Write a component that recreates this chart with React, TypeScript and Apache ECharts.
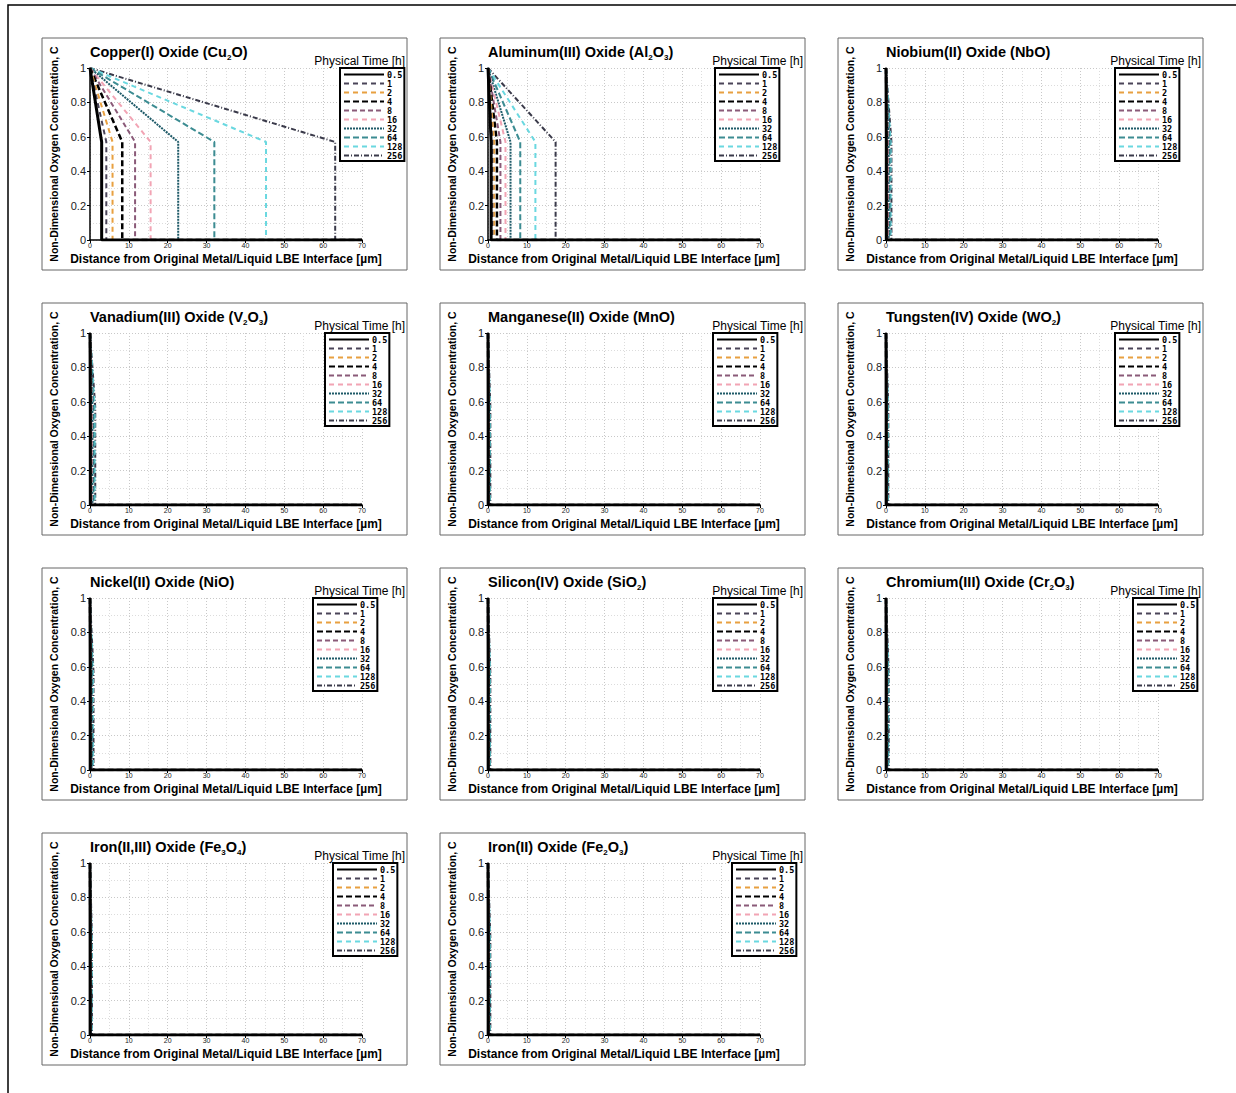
import React, { useEffect, useRef } from "react";
import * as echarts from "echarts";

// ---- data ----
const times = ["0.5", "1", "2", "4", "8", "16", "32", "64", "128", "256"];
const xTickMax = 70;
const dropLevel = 0.57;

const titlesRich = [
  "{t|Copper(I) Oxide (Cu}{s|2}{t|O)}",
  "{t|Aluminum(III) Oxide (Al}{s|2}{t|O}{s|3}{t|)}",
  "{t|Niobium(II) Oxide (NbO)}",
  "{t|Vanadium(III) Oxide (V}{s|2}{t|O}{s|3}{t|)}",
  "{t|Manganese(II) Oxide (MnO)}",
  "{t|Tungsten(IV) Oxide (WO}{s|2}{t|)}",
  "{t|Nickel(II) Oxide (NiO)}",
  "{t|Silicon(IV) Oxide (SiO}{s|2}{t|)}",
  "{t|Chromium(III) Oxide (Cr}{s|2}{t|O}{s|3}{t|)}",
  "{t|Iron(II,III) Oxide (Fe}{s|3}{t|O}{s|4}{t|)}",
  "{t|Iron(II) Oxide (Fe}{s|2}{t|O}{s|3}{t|)}",
];

// distance [µm] at which each time's profile drops to zero
const dropCu2O = [3.0, 4.2, 5.8, 8.3, 11.6, 15.6, 22.7, 32.0, 45.3, 63.1];
const dropAl2O3 = [0.8, 1.1, 1.6, 2.3, 3.2, 4.5, 5.8, 8.3, 12.2, 17.4];
const dropNbO = [0.08, 0.12, 0.17, 0.24, 0.34, 0.48, 0.68, 0.95, 1.2, 1.4];
const dropV2O3 = [0.08, 0.11, 0.16, 0.22, 0.32, 0.45, 0.63, 0.9, 1.2, 1.35];
const dropMnO = [0.04, 0.05, 0.07, 0.1, 0.14, 0.2, 0.28, 0.4, 0.52, 0.6];
const dropWO2 = [0.04, 0.05, 0.07, 0.1, 0.14, 0.2, 0.28, 0.4, 0.52, 0.6];
const dropNiO = [0.05, 0.07, 0.1, 0.14, 0.2, 0.28, 0.4, 0.56, 0.75, 0.9];
const dropSiO2 = [0.04, 0.05, 0.07, 0.1, 0.14, 0.2, 0.28, 0.4, 0.52, 0.6];
const dropCr2O3 = [0.04, 0.06, 0.08, 0.11, 0.16, 0.22, 0.32, 0.45, 0.6, 0.7];
const dropFe3O4 = [0.03, 0.05, 0.06, 0.09, 0.12, 0.17, 0.24, 0.34, 0.45, 0.5];
const dropFe2O3 = [0.04, 0.05, 0.07, 0.1, 0.14, 0.2, 0.28, 0.4, 0.52, 0.6];

const drops = [
  dropCu2O, dropAl2O3, dropNbO, dropV2O3, dropMnO, dropWO2,
  dropNiO, dropSiO2, dropCr2O3, dropFe3O4, dropFe2O3,
];

// ---- styles ----
const lineStyles: any[] = [
  { color: "#000000", width: 3, type: "solid" },
  { color: "#4a4458", width: 2, type: [5, 4] },
  { color: "#e8a040", width: 2, type: [5, 4] },
  { color: "#000000", width: 2.5, type: [6, 3] },
  { color: "#8a5a78", width: 2, type: [5, 3] },
  { color: "#f2a4b4", width: 2, type: [5, 4] },
  { color: "#1e5a68", width: 2, type: [2, 1] },
  { color: "#3c8c92", width: 2, type: [6, 3] },
  { color: "#6ad8e0", width: 2, type: [5, 4] },
  { color: "#3a3a4a", width: 2, type: [5, 2, 1, 2] },
];

const colLefts = [42, 440, 838];
const rowTops = [38, 303, 568, 833];
const panelW = 365;
const panelH = 232;
const legendLefts = [298, 275, 277, 283, 273, 277, 271, 273, 295, 291, 292];

export default function App() {
  const ref = useRef<HTMLDivElement>(null);
  useEffect(() => {
    if (!ref.current) return;
    const chart = echarts.init(ref.current, undefined, { renderer: "svg" });
    const grids: any[] = [];
    const xAxes: any[] = [];
    const yAxes: any[] = [];
    const series: any[] = [];
    const titles: any[] = [];
    const legends: any[] = [];
    const graphics: any[] = [
      {
        type: "polyline",
        shape: { points: [[8, 1093], [8, 5], [1236, 5]] },
        style: { stroke: "#000", lineWidth: 1.5, fill: null },
        silent: true,
      },
    ];
    const font = "'Liberation Sans', Arial, sans-serif";
    drops.forEach((dist, p) => {
      const px = colLefts[p % 3];
      const py = rowTops[Math.floor(p / 3)];
      grids.push({ left: px + 48, top: py + 30, width: 272, height: 172 });
      xAxes.push({
        gridIndex: p,
        type: "value",
        min: 0,
        max: xTickMax,
        interval: 10,
        name: "Distance from Original Metal/Liquid LBE Interface [µm]",
        nameLocation: "middle",
        nameGap: 13,
        nameTextStyle: { fontFamily: font, fontWeight: "bold", fontSize: 12, color: "#000" },
        axisLine: { show: true, onZero: false, lineStyle: { color: "#000", width: 1.5 } },
        axisTick: { show: true, length: 3, lineStyle: { color: "#000" } },
        axisLabel: { fontSize: 7, margin: 2, color: "#222", fontFamily: font },
        splitLine: { show: true, lineStyle: { color: "#c8c8c8", type: [1, 2] } },
        minorTick: { show: false, splitNumber: 2 },
        minorSplitLine: { show: true, lineStyle: { color: "#dcdcdc", type: [1, 2] } },
      });
      yAxes.push({
        gridIndex: p,
        type: "value",
        min: 0,
        max: 1,
        interval: 0.2,
        name: "Non-Dimensional Oxygen Concentration, C",
        nameLocation: "middle",
        nameGap: 31,
        nameTextStyle: { fontFamily: font, fontWeight: "bold", fontSize: 10.5, color: "#000" },
        axisLine: { show: true, onZero: false, lineStyle: { color: "#000", width: 1.5 } },
        axisTick: { show: true, length: 3, lineStyle: { color: "#000" } },
        axisLabel: { fontSize: 11, margin: 4, color: "#222", fontFamily: font },
        splitLine: { show: true, lineStyle: { color: "#c8c8c8", type: [1, 2] } },
        minorTick: { show: false, splitNumber: 2 },
        minorSplitLine: { show: true, lineStyle: { color: "#dcdcdc", type: [1, 2] } },
      });
      titles.push({
        text: titlesRich[p],
        left: px + 48,
        top: py + 5,
        padding: 0,
        textStyle: {
          rich: {
            t: { fontFamily: font, fontWeight: "bold", fontSize: 14.5, color: "#000", lineHeight: 18 },
            s: { fontFamily: font, fontWeight: "bold", fontSize: 8, color: "#000", lineHeight: 8, verticalAlign: "bottom" },
          },
        },
      });
      legends.push({
        data: times,
        orient: "vertical",
        left: px + legendLefts[p],
        top: py + 30,
        itemWidth: 40,
        itemHeight: 8,
        itemGap: 0,
        padding: [2, 2, 1, 3],
        borderColor: "#000",
        borderWidth: 2,
        backgroundColor: "#fff",
        selectedMode: false,
        itemStyle: { opacity: 0 },
        textStyle: { fontFamily: "'DejaVu Sans Mono', monospace", fontSize: 8.5, fontWeight: "bold", color: "#000", padding: [0, 0, 0, -2] },
      });
      graphics.push({
        type: "rect",
        shape: { x: px, y: py, width: panelW, height: panelH },
        style: { stroke: "#666", lineWidth: 1, fill: null },
        silent: true,
      });
      graphics.push({
        type: "text",
        x: px + panelW - 2,
        y: py + 23,
        style: { text: "Physical Time [h]", fontFamily: font, fontSize: 12, fill: "#000", align: "right", verticalAlign: "middle" },
        silent: true,
      });
      times.forEach((t, k) => {
        const L = dist[k];
        series.push({
          name: t,
          type: "line",
          xAxisIndex: p,
          yAxisIndex: p,
          symbol: "none",
          lineStyle: lineStyles[k],
          itemStyle: { color: lineStyles[k].color },
          z: 20 - k,
          data: [[0, 1], [L, dropLevel], [L, 0], [xTickMax, 0]],
        });
      });
    });
    chart.setOption({
      animation: false,
      backgroundColor: "#fff",
      title: titles,
      legend: legends,
      grid: grids,
      xAxis: xAxes,
      yAxis: yAxes,
      series,
      graphic: graphics,
    });
    return () => chart.dispose();
  }, []);
  return (
    <div
      ref={ref}
      style={{ position: "absolute", left: 0, top: 0, width: 1236, height: 1093 }}
    />
  );
}
